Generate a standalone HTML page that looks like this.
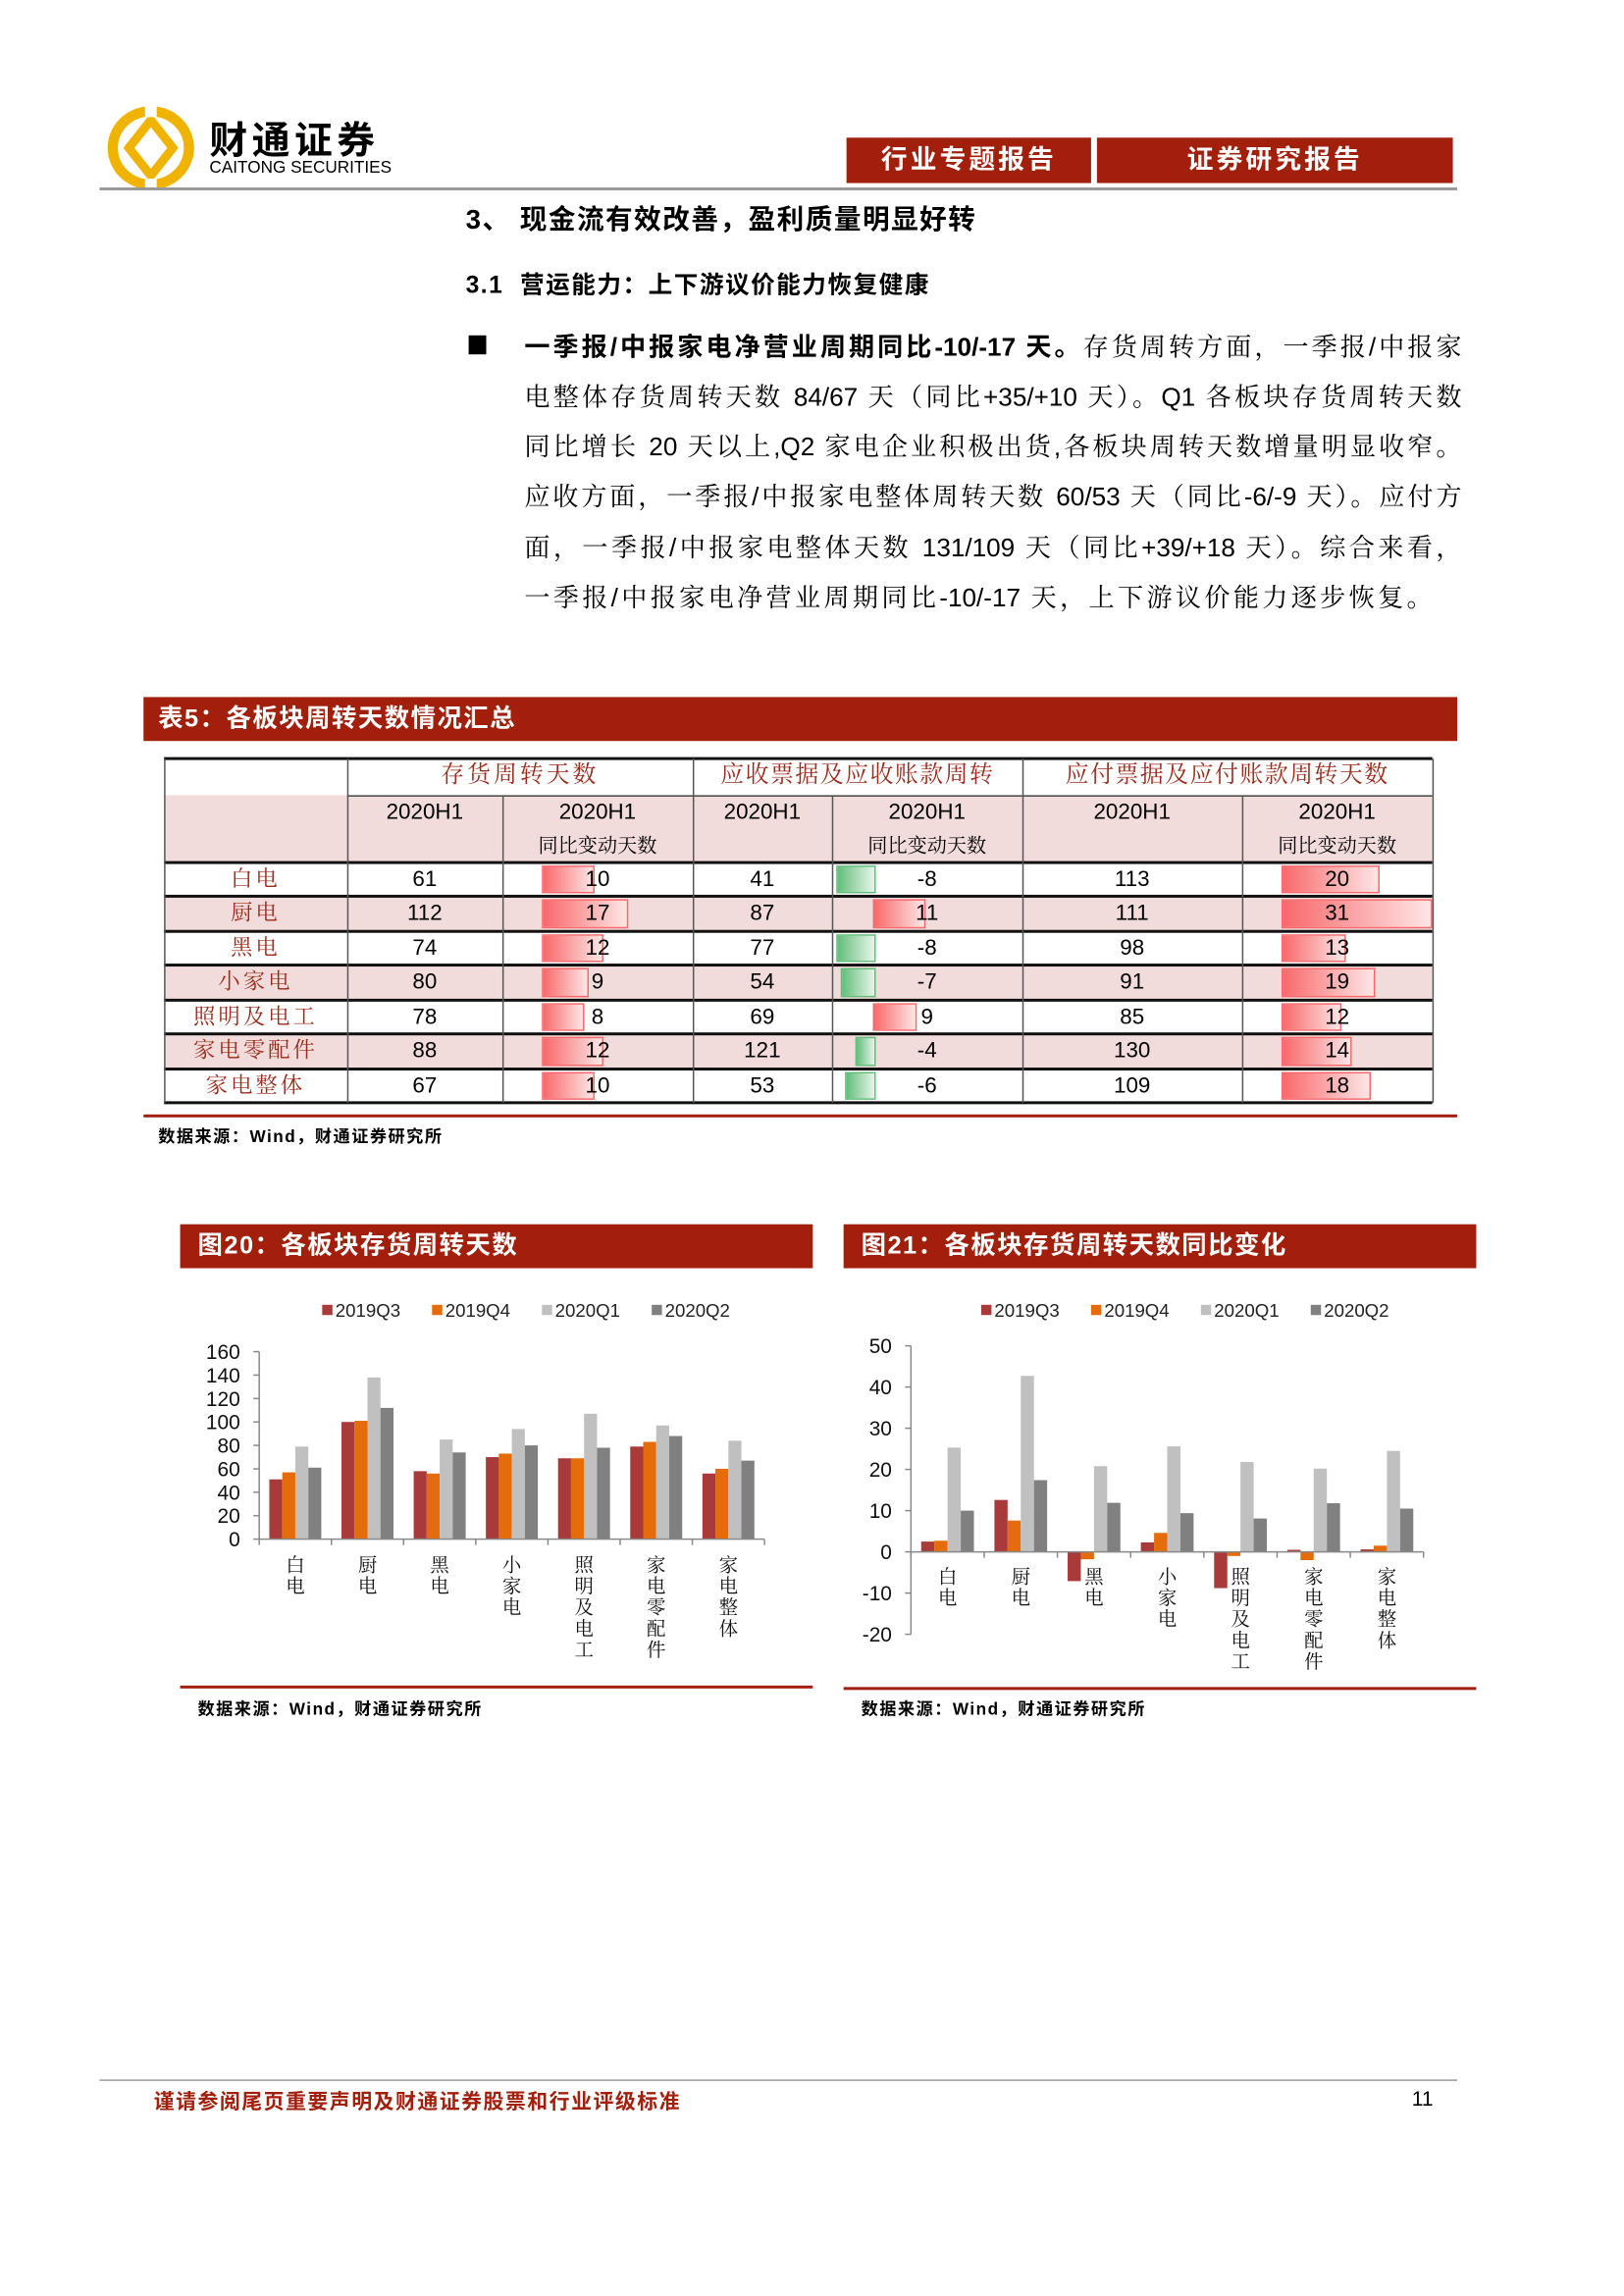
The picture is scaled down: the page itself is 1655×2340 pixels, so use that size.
<!DOCTYPE html>
<html><head><meta charset="utf-8">
<style>
html,body{margin:0;padding:0;background:#fff;}
#page{position:absolute;left:0;top:0;width:1109px;height:1568px;transform:scale(1.4925);transform-origin:0 0;overflow:hidden;font-family:"Liberation Sans","Noto Serif CJK SC",serif;color:#000;}
.abs{position:absolute;white-space:nowrap;}
.ttl{font-family:"Liberation Sans","Noto Sans CJK SC",sans-serif;font-weight:bold;}
.line{position:absolute;left:358px;width:640px;font-size:17.5px;line-height:20px;text-align:justify;text-align-last:justify;white-space:nowrap;}
.bar{position:absolute;background:#a21f0c;color:#fff;font-family:"Liberation Sans","Noto Sans CJK SC",sans-serif;font-weight:bold;}
.cell{position:absolute;text-align:center;font-size:15px;line-height:20px;white-space:nowrap;}
.hd{color:#9a2b1b;font-family:"Liberation Sans","Noto Serif CJK SC",serif;}
</style></head><body>
<div id="page">
<svg class="abs" style="left:72px;top:72px" width="62" height="58" viewBox="0 0 62 58">
<ellipse cx="31" cy="29" rx="26" ry="25" fill="none" stroke="#f0b400" stroke-width="7"/>
<path d="M31 10 L46 29 L31 48 L16 29 Z" fill="none" stroke="#f0b400" stroke-width="6"/>
<rect x="27" y="0" width="8" height="8" fill="#fff"/><rect x="27" y="50" width="8" height="8" fill="#fff"/>
</svg>
<div class="abs ttl" style="left:143px;top:76px;font-size:26px;letter-spacing:3px">财通证券</div>
<div class="abs" style="left:143px;top:109px;font-size:11.5px;font-family:'Liberation Sans',sans-serif">CAITONG SECURITIES</div>
<div class="bar" style="left:578px;top:94px;width:167px;height:31px;font-size:18px;line-height:31px;text-align:center;letter-spacing:2px">行业专题报告</div>
<div class="bar" style="left:749px;top:94px;width:243px;height:31px;font-size:18px;line-height:31px;text-align:center;letter-spacing:2px">证券研究报告</div>
<div class="abs" style="left:68px;top:128px;width:927px;height:2px;background:#999"></div>

<div class="abs ttl" style="left:318px;top:136px;font-size:18.5px;letter-spacing:1px">3、 现金流有效改善，盈利质量明显好转</div>
<div class="abs ttl" style="left:318px;top:181px;font-size:16.5px;letter-spacing:1px">3.1&nbsp; 营运能力：上下游议价能力恢复健康</div>

<div class="abs" style="left:320px;top:229px;width:12px;height:13px;background:#000"></div>
<div>
<div class="line" style="top:227px"><b class="ttl">一季报/中报家电净营业周期同比-10/-17 天。</b>存货周转方面，一季报/中报家</div>
<div class="line" style="top:261px">电整体存货周转天数 84/67 天（同比+35/+10 天）。Q1 各板块存货周转天数</div>
<div class="line" style="top:295px">同比增长 20 天以上,Q2 家电企业积极出货,各板块周转天数增量明显收窄。</div>
<div class="line" style="top:329px">应收方面，一季报/中报家电整体周转天数 60/53 天（同比-6/-9 天）。应付方</div>
<div class="line" style="top:364px">面，一季报/中报家电整体天数 131/109 天（同比+39/+18 天）。综合来看，</div>
<div class="line" style="top:398px;width:620px;text-align-last:justify">一季报/中报家电净营业周期同比-10/-17 天，上下游议价能力逐步恢复。</div>
</div>

<div class="bar" style="left:98px;top:476px;width:897px;height:30px;font-size:17px;line-height:30px;padding-left:10px;box-sizing:border-box;letter-spacing:1px">表5：各板块周转天数情况汇总</div>
<div id="tbl"></div>
<div class="abs" style="left:98px;top:761px;width:897px;height:2px;background:#a21f0c"></div>
<div class="abs ttl" style="left:108px;top:768px;font-size:11.5px;letter-spacing:1px">数据来源：Wind，财通证券研究所</div>

<div class="bar" style="left:123px;top:836px;width:432px;height:30px;font-size:17px;line-height:30px;padding-left:12px;box-sizing:border-box;letter-spacing:1px">图20：各板块存货周转天数</div>
<div class="bar" style="left:576px;top:836px;width:432px;height:30px;font-size:17px;line-height:30px;padding-left:12px;box-sizing:border-box;letter-spacing:1px">图21：各板块存货周转天数同比变化</div>
<svg id="charts" class="abs" style="left:0;top:0" width="1109" height="1568"></svg>
<div class="abs" style="left:123px;top:1151px;width:432px;height:2px;background:#a21f0c"></div>
<div class="abs" style="left:576px;top:1152px;width:432px;height:2px;background:#a21f0c"></div>
<div class="abs ttl" style="left:135px;top:1159px;font-size:11.5px;letter-spacing:1px">数据来源：Wind，财通证券研究所</div>
<div class="abs ttl" style="left:588px;top:1159px;font-size:11.5px;letter-spacing:1px">数据来源：Wind，财通证券研究所</div>

<div class="abs" style="left:68px;top:1420px;width:927px;height:1px;background:#999"></div>
<div class="abs ttl" style="left:105px;top:1425px;font-size:14px;color:#a21f0c;letter-spacing:1px">谨请参阅尾页重要声明及财通证券股票和行业评级标准</div>
<div class="abs" style="left:964px;top:1425px;font-size:14px">11</div>
</div>
<script>
var rowLabels = ['白电','厨电','黑电','小家电','照明及电工','家电零配件','家电整体'];
var invDays = [61,112,74,80,78,88,67];
var invChg = [10,17,12,9,8,12,10];
var recDays = [41,87,77,54,69,121,53];
var recChg = [-8,11,-8,-7,9,-4,-6];
var payDays = [113,111,98,91,85,130,109];
var payChg = [20,31,13,19,12,14,18];
var categories = ['白电','厨电','黑电','小家电','照明及电工','家电零配件','家电整体'];
var seriesNames = ['2019Q3','2019Q4','2020Q1','2020Q2'];
var inv19Q3 = [51,100,58,70,69,79,56];
var inv19Q4 = [57,101,56,73,69,83,60];
var inv20Q1 = [79,138,85,94,107,97,84];
var inv20Q2 = [61,112,74,80,78,88,67];
var chg19Q3 = [2.5,12.6,-7.1,2.3,-8.8,0.5,0.6];
var chg19Q4 = [2.7,7.6,-1.8,4.6,-1,-2,1.5];
var chg20Q1 = [25.3,42.7,20.8,25.6,21.8,20.2,24.5];
var chg20Q2 = [10,17.4,11.9,9.4,8.1,11.8,10.5];
var ticks20 = [0,20,40,60,80,100,120,140,160];
var ticks21 = [-20,-10,0,10,20,30,40,50];

var colors = ['#a83a3a','#e46c0a','#c0c0c0','#808080'];
var tbl = document.getElementById('tbl');
var colX = [112,237,343,473,568,698,848,978];
var rowY = [589,612,636,659,683,706,730,753];

function box(l,t,w,h,bg){var d=document.createElement('div');d.className='abs';d.style.left=l+'px';d.style.top=t+'px';d.style.width=w+'px';d.style.height=h+'px';d.style.background=bg;tbl.appendChild(d);return d;}
function txt(l,w,t,s,cls){var d=document.createElement('div');d.className='cell '+(cls||'');d.style.left=l+'px';d.style.width=w+'px';d.style.top=t+'px';d.textContent=s;tbl.appendChild(d);return d;}

var bgH=box(112,543,866,46,'#f2dcdb');


for(var r=0;r<7;r++){
  if(r%2===1){var b=box(112,rowY[r],866,rowY[r+1]-rowY[r],'#f2dcdb');
  
  }
}
function dbar(x0,val,scale,r){
  var top=rowY[r]+2,h=rowY[r+1]-rowY[r]-4,w=Math.abs(val)*scale;
  var d=document.createElement('div');d.className='abs';
  
  
  d.style.top=top+'px';d.style.height=(h-2)+'px';d.style.width=w+'px';
  if(val>=0){d.style.left=x0+'px';d.style.background='linear-gradient(90deg,#f8696b,#fde6e6)';d.style.border='1px solid #f8696b';}
  else{d.style.left=(x0-w)+'px';d.style.background='linear-gradient(90deg,#63be7b,#e6f5ea)';d.style.border='1px solid #63be7b';}
  tbl.appendChild(d);
}
for(var r=0;r<7;r++){
  dbar(370,invChg[r],3.35,r);
  dbar(596,recChg[r],3.1,r);
  dbar(875,payChg[r],3.26,r);
}
var h1=txt(237,236,520,'存货周转天数','hd');h1.style.fontSize='16px';h1.style.letterSpacing='2px';
var h2=txt(473,225,520,'应收票据及应收账款周转','hd');h2.style.fontSize='16px';h2.style.letterSpacing='1px';
var h3=txt(698,280,520,'应付票据及应付账款周转天数','hd');h3.style.fontSize='16px';h3.style.letterSpacing='1px';
for(var c=1;c<7;c++){
  var t=txt(colX[c],colX[c+1]-colX[c],545,'2020H1');
  
  
  if(c%2===0){var t2=txt(colX[c],colX[c+1]-colX[c],568,'同比变动天数');
  
  t2.style.fontSize='13.5px';}
}
var cols=[invDays,invChg,recDays,recChg,payDays,payChg];
for(var r=0;r<7;r++){
  var lb=txt(112,125,rowY[r]+2,rowLabels[r],'hd');
  
  lb.style.letterSpacing='2px';
  for(var c=0;c<6;c++){
    var v=txt(colX[c+1],colX[c+2]-colX[c+1],rowY[r]+2,String(cols[c][r]));
    
    
  }
}
[518,543,589,612,636,659,683,706,730,753].forEach(function(y,i){
  var thick=(i===0||i===2||i===9)?2:1.5;
  if(i===1){box(237,y,741,1,'#444');return;}
  box(112,y-thick/2,866,thick,'#111');
});
colX.forEach(function(x,i){
  var top=(i===2||i===4||i===6)?543:518;
  box(x-0.5,top,1,753-top,'#555');
});

var svg=document.getElementById('charts');var NS='http://www.w3.org/2000/svg';
function el(tag,attrs){var e=document.createElementNS(NS,tag);for(var k in attrs)e.setAttribute(k,attrs[k]);svg.appendChild(e);return e;}
function chart(cfg){
  var yS=function(v){return cfg.y0-(v*cfg.k);};
  var gw=(cfg.x1-cfg.x0)/categories.length;
  seriesNames.forEach(function(n,i){
    var lx=cfg.lx+i*75;
    var sq=el('rect',{x:lx,y:891,width:7,height:7,fill:colors[i]});
    
    
    var tx=el('text',{x:lx+9,y:899,'font-size':12.5,fill:'#222','font-family':'Liberation Sans,sans-serif'});tx.textContent=n;
    
    
  });
  cfg.series.forEach(function(arr,si){
    arr.forEach(function(v,ci){
      var bw=gw*0.18;var bx=cfg.x0+ci*gw+gw*0.14+si*bw;
      var y=Math.min(yS(v),yS(0)),h=Math.abs(yS(v)-yS(0));
      var r=el('rect',{x:bx,y:y,width:bw,height:h,fill:colors[si]});
      
      
    });
  });
  var ax=el('line',{x1:cfg.x0,y1:yS(cfg.ticks[cfg.ticks.length-1]),x2:cfg.x0,y2:yS(cfg.ticks[0]),stroke:'#888','stroke-width':1});
  
  
  var xa=el('line',{x1:cfg.x0,y1:yS(0),x2:cfg.x1,y2:yS(0),stroke:'#888','stroke-width':1});
  
  
  cfg.ticks.forEach(function(t){
    el('line',{x1:cfg.x0-4,y1:yS(t),x2:cfg.x0,y2:yS(t),stroke:'#888'});
    var lt=el('text',{x:cfg.x0-13,y:yS(t)+5,'font-size':14,'text-anchor':'end',fill:'#111','font-family':'Liberation Sans,sans-serif'});lt.textContent=t;
    
    
  });
  for(var i=0;i<=categories.length;i++){el('line',{x1:cfg.x0+i*gw,y1:yS(0),x2:cfg.x0+i*gw,y2:yS(0)+4,stroke:'#888'});}
  categories.forEach(function(c,ci){
    var cx=cfg.x0+ci*gw+gw/2;
    for(var j=0;j<c.length;j++){
      var ct=el('text',{x:cx,y:cfg.ly+j*14.5,'font-size':13,'text-anchor':'middle',fill:'#111','font-family':'Noto Serif CJK SC,serif'});ct.textContent=c[j];
      
      
    }
  });
}
chart({x0:177,x1:522,y0:1051,k:0.8,ticks:ticks20,lx:220,ly:1073,series:[inv19Q3,inv19Q4,inv20Q1,inv20Q2]});
chart({x0:622,x1:972,y0:1059.7,k:2.814,ticks:ticks21,lx:670,ly:1081,series:[chg19Q3,chg19Q4,chg20Q1,chg20Q2]});
</script>
</body></html>
